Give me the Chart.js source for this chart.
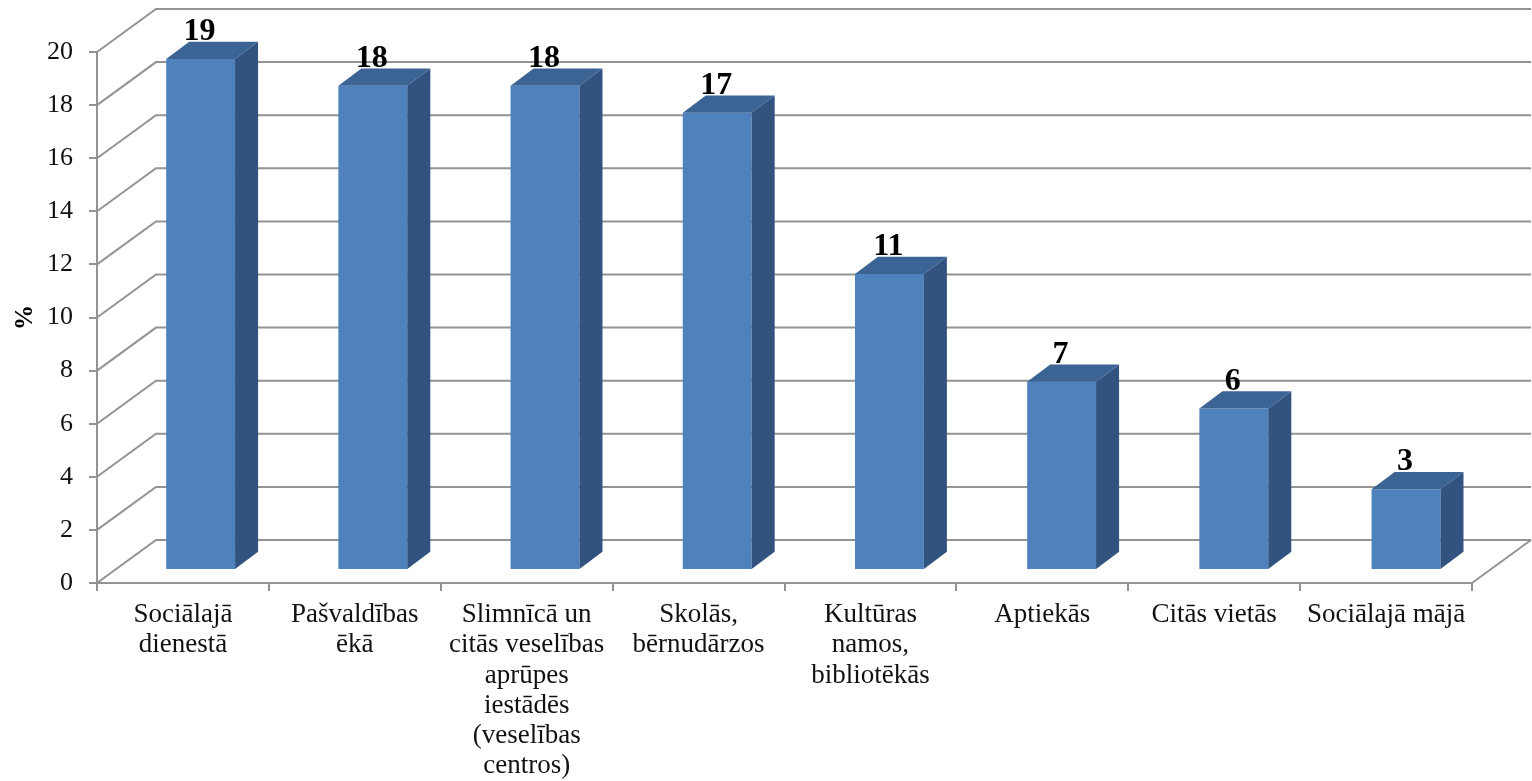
<!DOCTYPE html>
<html lang="lv">
<head>
<meta charset="utf-8">
<title>Vietas</title>
<script src="https://cdn.jsdelivr.net/npm/chart.js@4.4.1/dist/chart.umd.min.js"></script>
<style>
    html, body { margin: 0; padding: 0; background: #fff; }
</style>
</head>
<body>
<canvas id="vietas-chart" width="1532" height="781"></canvas>
<script>
// --- DATI ---
const vietas = [
    ['Sociālajā', 'dienestā'],
    ['Pašvaldības', 'ēkā'],
    ['Slimnīcā un', 'citās veselības', 'aprūpes', 'iestādēs', '(veselības', 'centros)'],
    ['Skolās,', 'bērnudārzos'],
    ['Kultūras', 'namos,', 'bibliotēkās'],
    ['Aptiekās'],
    ['Citās vietās'],
    ['Sociālajā mājā']
];
const procenti = [19, 18, 18, 17, 11, 7, 6, 3];
const asisMin = 0;
const asisMax = 20;
const asisSolis = 2;

// --- 3D IZSKATS ---
const SIENA = { dx: 59, dy: -43 };      // aizmugurējās sienas nobīde
const STABS = { dx: 23, dy: -17 };      // stabiņa dziļums
const PLAKNE = { kx: 1.0019, ky: 1.0132, nobideX: 17.5, pacelums: 13 }; // stabiņu plakne
const LINIJA = '#939393';
const FONTS = '"Liberation Serif", "Times New Roman", serif';

// stabiņu plaknes transformācija attiecībā pret priekšējo plakni
function plaknesMatrica(area) {
    const ex = area.left + PLAKNE.nobideX - PLAKNE.kx * area.left;
    const ey = (area.bottom - PLAKNE.pacelums) - PLAKNE.ky * area.bottom;
    return [PLAKNE.kx, 0, 0, PLAKNE.ky, ex, ey];
}

// aizmugurējās sienas režģis un grīda
const sienaPlugin = {
    id: 'siena',
    beforeDatasetsDraw(chart) {
        const { ctx, chartArea: a, scales: { y } } = chart;
        ctx.save();
        ctx.strokeStyle = LINIJA;
        ctx.lineWidth = 2;
        y.ticks.forEach(t => {
            const py = y.getPixelForValue(t.value);
            ctx.beginPath();
            ctx.moveTo(a.left, py);
            ctx.lineTo(a.left + SIENA.dx, py + SIENA.dy);
            ctx.lineTo(a.right + SIENA.dx, py + SIENA.dy);
            ctx.stroke();
        });
        // grīdas labā mala
        ctx.beginPath();
        ctx.moveTo(a.right, a.bottom);
        ctx.lineTo(a.right + SIENA.dx, a.bottom + SIENA.dy);
        ctx.stroke();
        ctx.restore();

        // stabiņu priekšpuse tiek zīmēta pārvietotā plaknē
        ctx.save();
        ctx.transform(...plaknesMatrica(a));
    },
    afterDatasetsDraw(chart) {
        const { ctx } = chart;
        const meta = chart.getDatasetMeta(0);
        meta.data.forEach(bar => {
            const { x, y, base, width } = bar.getProps(['x', 'y', 'base', 'width'], true);
            const l = x - width / 2, r = x + width / 2;
            // sāns
            ctx.fillStyle = '#32537f';
            ctx.beginPath();
            ctx.moveTo(r, y);
            ctx.lineTo(r + STABS.dx, y + STABS.dy);
            ctx.lineTo(r + STABS.dx, base + STABS.dy);
            ctx.lineTo(r, base);
            ctx.closePath();
            ctx.fill();
            // augša
            ctx.fillStyle = '#3b6394';
            ctx.beginPath();
            ctx.moveTo(l, y);
            ctx.lineTo(l + STABS.dx, y + STABS.dy);
            ctx.lineTo(r + STABS.dx, y + STABS.dy);
            ctx.lineTo(r, y);
            ctx.closePath();
            ctx.fill();
        });
        ctx.restore();

        // vērtības virs stabiņiem
        const [kx, , , ky, ex, ey] = plaknesMatrica(chart.chartArea);
        ctx.save();
        ctx.font = 'bold 32px ' + FONTS;
        ctx.fillStyle = '#000';
        ctx.textAlign = 'center';
        ctx.textBaseline = 'alphabetic';
        meta.data.forEach((bar, i) => {
            const { x, y } = bar.getProps(['x', 'y'], true);
            const px = kx * x + ex;
            const py = ky * y + ey;
            ctx.fillText(String(procenti[i]), px - 1, py + STABS.dy - 2);
        });
        ctx.restore();
    }
};

new Chart(document.getElementById('vietas-chart'), {
    type: 'bar',
    data: {
        labels: vietas,
        datasets: [{
            data: procenti,
            backgroundColor: '#4f81bd',
            borderWidth: 0,
            barPercentage: 0.4,
            categoryPercentage: 1.0,
            clip: false
        }]
    },
    options: {
        responsive: false,
        animation: false,
        devicePixelRatio: 1,
        layout: { padding: { top: 52, right: 60, bottom: 0, left: 0 } },
        plugins: { legend: { display: false }, tooltip: { enabled: false } },
        scales: {
            x: {
                grid: { display: true, drawOnChartArea: false, tickLength: 8, color: LINIJA, lineWidth: 2 },
                border: { display: true, color: LINIJA, width: 2 },
                ticks: {
                    autoSkip: false,
                    maxRotation: 0,
                    padding: 9,
                    color: '#111',
                    font: { family: FONTS, size: 27, lineHeight: 1.12 }
                },
                afterFit: s => { s.height = 198; }
            },
            y: {
                min: asisMin,
                max: asisMax,
                grid: { display: true, drawOnChartArea: false, tickLength: 8, color: LINIJA, lineWidth: 2 },
                border: { display: true, color: LINIJA, width: 2 },
                ticks: {
                    stepSize: asisSolis,
                    padding: 16,
                    color: '#111',
                    font: { family: FONTS, size: 26 }
                },
                title: {
                    display: true,
                    text: '%',
                    color: '#000',
                    padding: { top: 11, bottom: 0 },
                    font: { family: FONTS, size: 25, weight: 'bold' }
                },
                afterFit: s => { s.width = 97; }
            }
        }
    },
    plugins: [sienaPlugin]
});
</script>
</body>
</html>
